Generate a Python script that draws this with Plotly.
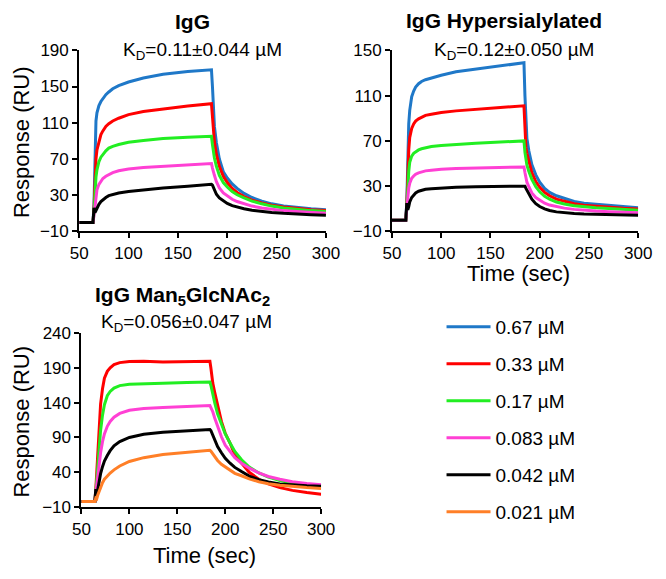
import plotly.graph_objects as go

# ---------------- data ----------------
time_sec = [50, 64, 65, 66, 67, 68, 70, 72, 74, 77, 80, 84, 90, 100, 115, 135, 160, 184,
            185, 186, 187, 189, 192, 196, 200, 205, 210, 217, 225, 235, 245, 257, 270, 285, 300]

conc_labels = ["0.67 µM", "0.33 µM", "0.17 µM", "0.083 µM", "0.042 µM", "0.021 µM"]
conc_colors = ["#1f78c8", "#ff0000", "#22ee22", "#ff40d4", "#000000", "#ff7f27"]

# Panel 1: IgG
igg_067 = [0, 0, 20, 85, 112, 121, 129, 133.5, 137, 141, 144, 147.5, 151, 155, 159.5, 163.5, 166.5, 168.5,
           150, 118, 106, 88, 70, 56, 49, 42.5, 37.5, 32, 27.5, 23.5, 20.5, 18, 16.5, 15, 14]
igg_033 = [0, 0, 15, 50, 70, 80, 90, 97, 101, 106, 109, 112, 115, 119, 122.5, 125.5, 128.5, 131,
           118, 98, 89, 75, 62, 51, 44, 37.5, 33, 28.5, 24.5, 21.5, 19, 17, 15.5, 14, 13]
igg_017 = [0, 0, 10, 32, 50, 58, 67, 72, 75, 79, 82, 84, 86, 88.5, 90.5, 92.5, 94, 95,
           86, 76, 71, 62, 52, 44, 39, 34, 30.5, 27, 23.5, 20.5, 18, 16, 14.5, 13, 12]
igg_0083 = [0, 0, 8, 20, 30, 36, 42, 46, 48.5, 51, 53, 55, 57, 59, 60.5, 62, 63.5, 65,
            60, 55, 52, 45, 38, 32.5, 29, 25.5, 23, 20.5, 18, 16, 14.5, 13, 12, 11, 10]
igg_0042 = [0, 0, 16, 11, 13, 16, 20, 23, 25, 27.5, 29.5, 31, 32.5, 34, 36, 38, 40, 42,
            41, 38, 35, 31, 27, 23.5, 21, 18.5, 17, 15, 13.5, 12, 11, 10, 9, 8.5, 8]

# Panel 2: IgG Hypersialylated
hyp_067 = [0, 0, 15, 60, 85, 97, 109, 114, 117.5, 120.5, 122.5, 124, 125.5, 128, 131, 133.5, 136.5, 139,
           110, 80, 72, 61, 49, 40, 33.5, 28, 24.5, 21.5, 19, 16.5, 15, 14, 13, 12, 11]
hyp_033 = [0, 0, 12, 42, 62, 73, 81, 85, 87.5, 89.5, 91, 92.5, 93.5, 95, 96.5, 98, 99.5, 101,
           82, 64, 59, 51, 42, 34, 29, 24.5, 21.5, 18.5, 16.5, 14.5, 13.2, 12.2, 11.3, 10.5, 9.8]
hyp_017 = [0, 0, 10, 30, 43, 51, 56.5, 59, 60.5, 62, 63, 64, 65, 66, 67, 68, 69, 70,
           60, 52, 48.5, 43, 36, 29.5, 25, 21, 18.5, 16, 14.2, 12.8, 11.8, 11, 10.2, 9.5, 8.8]
hyp_0083 = [0, 0, 10, 22, 28.5, 32.5, 37, 39, 40.5, 41.8, 42.8, 43.5, 44, 45, 45.5, 46, 46.5, 47,
            42, 36, 33.5, 29.5, 24, 20, 17.5, 15, 13.3, 11.8, 10.6, 9.5, 8.7, 8, 7.4, 6.9, 6.5]
hyp_0042 = [0, 0, 15, 9, 12, 16, 20, 22.5, 24, 25.5, 26.5, 27.2, 27.8, 28.5, 29, 29.5, 30, 30.5,
            30, 28, 26.5, 23, 18.5, 14.5, 12, 10, 8.5, 7.3, 6.4, 5.8, 5.4, 5.1, 4.8, 4.5, 4.3]

# Panel 3: IgG Man5GlcNAc2
man_033 = [-2, -2, 15, 40, 70, 100, 138, 160, 175, 185, 190, 194.5, 197.5, 199, 199.5, 198.5, 199, 199.5,
           190, 176, 168, 155, 135, 113, 96, 82, 65, 53, 40, 30, 23.5, 18, 14, 11, 8.5]
man_017 = [-2, -2, 12, 30, 48, 68, 100, 122, 137, 150, 156, 161, 164.5, 166.5, 167.5, 168, 169, 169.5,
           165, 158, 150, 140, 124, 108, 95, 82, 70, 58, 47.5, 39, 33, 28, 24.5, 22, 20.5]
man_0083 = [-2, -2, 10, 22, 35, 48, 68, 84, 95, 106, 113, 119, 124.5, 129, 131.5, 133, 134.5, 136,
            133, 130, 127, 118, 106, 91, 79, 70, 61, 53, 46, 39, 34, 30, 26.5, 24, 22]
man_0042 = [-2, -2, 16, 8, 15, 25, 38, 48, 56, 64, 71, 78, 84, 90, 94.5, 97.5, 99.5, 101.5,
            100, 97, 94, 87, 77, 68, 60, 53, 47, 41, 34.5, 29.5, 26, 23.3, 21.8, 20.8, 20]
man_0021 = [-2, -2, 3, 2, 7, 11, 19, 25, 30, 35, 39, 43.5, 49, 55.5, 61, 65.5, 69, 71.5,
            70.5, 68.5, 66.5, 62, 57, 51.5, 47.5, 43, 38.5, 35, 30.5, 26.5, 23.5, 21.5, 19.5, 18, 16.8]

x_ticks = [50, 100, 150, 200, 250, 300]
y_ticks_1 = [-10, 30, 70, 110, 150, 190]
y_ticks_2 = [-10, 30, 70, 110, 150]
y_ticks_3 = [-10, 40, 90, 140, 190, 240]

panel_titles = ["IgG", "IgG Hypersialylated", "IgG Man<sub>5</sub>GlcNAc<sub>2</sub>"]
kd_texts = ["K<sub>D</sub>=0.11±0.044 µM", "K<sub>D</sub>=0.12±0.050 µM", "K<sub>D</sub>=0.056±0.047 µM"]

# ---------------- figure ----------------
W, H = 666, 579
FONT = "Liberation Sans, Arial, sans-serif"


def fx(p):
    return p / W


def fy(p):
    return 1 - p / H


fig = go.Figure()

panels = [
    ("x", "y", [igg_067, igg_033, igg_017, igg_0083, igg_0042], [0, 1, 2, 3, 4]),
    ("x2", "y2", [hyp_067, hyp_033, hyp_017, hyp_0083, hyp_0042], [0, 1, 2, 3, 4]),
    ("x3", "y3", [man_033, man_017, man_0083, man_0042, man_0021], [1, 2, 3, 4, 5]),
]

for xa, ya, series, idxs in panels:
    for vals, ci in zip(series, idxs):
        show = (ci == 0 and xa == "x") or (ci != 0 and xa == "x3")
        fig.add_trace(go.Scatter(
            x=time_sec, y=vals, mode="lines", xaxis=xa, yaxis=ya,
            line=dict(color=conc_colors[ci], width=3),
            name=conc_labels[ci], legendgroup=conc_labels[ci], legendrank=ci + 1,
            showlegend=show, hoverinfo="skip",
        ))

axis_common = dict(showline=True, linecolor="black", linewidth=2, ticks="outside",
                   ticklen=5, tickwidth=2, tickcolor="black", showgrid=False, zeroline=False,
                   tickfont=dict(family=FONT, size=17, color="black"))

fig.update_layout(
    width=W, height=H, margin=dict(l=0, r=0, t=0, b=0),
    paper_bgcolor="white", plot_bgcolor="white",
    font=dict(family=FONT, color="black"),
    xaxis=dict(domain=[fx(72.7), fx(328.3)], range=[50, 300], tickvals=x_ticks, anchor="y", **axis_common),
    yaxis=dict(domain=[fy(230), fy(42.7)], range=[-10, 190], tickvals=y_ticks_1, anchor="x", **axis_common),
    xaxis2=dict(domain=[fx(396.7), fx(651.7)], range=[50, 300], tickvals=x_ticks, anchor="y2", **axis_common),
    yaxis2=dict(domain=[fy(230), fy(42.7)], range=[-10, 150], tickvals=y_ticks_2, anchor="x2", **axis_common),
    xaxis3=dict(domain=[fx(75), fx(323.3)], range=[50, 300], tickvals=x_ticks, anchor="y3", **axis_common),
    yaxis3=dict(domain=[fy(515), fy(335)], range=[-10, 240], tickvals=y_ticks_3, anchor="x3", **axis_common),
    legend=dict(x=fx(448), y=fy(309), xanchor="left", yanchor="top",
                font=dict(family=FONT, size=19, color="black"),
                tracegroupgap=9.3, itemwidth=44, bgcolor="rgba(0,0,0,0)"),
    showlegend=True,
)

ann = []
title_pos = [(190, 13), (513, 12), (180, 297)]
kd_pos = [(200, 43), (523, 43), (184, 325)]
for t, (x, y) in zip(panel_titles, title_pos):
    ann.append(dict(text="<b>" + t + "</b>", x=fx(x), y=fy(y), xref="paper", yref="paper",
                    showarrow=False, xanchor="center", yanchor="middle",
                    font=dict(family=FONT, size=21, color="black")))
for t, (x, y) in zip(kd_texts, kd_pos):
    ann.append(dict(text=t, x=fx(x), y=fy(y), xref="paper", yref="paper",
                    showarrow=False, xanchor="center", yanchor="middle",
                    font=dict(family=FONT, size=19, color="black")))
# axis titles
for (x, y) in [(13, 138), (13, 427)]:
    ann.append(dict(text="Response (RU)", x=fx(x), y=fy(y), xref="paper", yref="paper",
                    showarrow=False, textangle=-90, xanchor="center", yanchor="middle",
                    font=dict(family=FONT, size=22, color="black")))
for (x, y) in [(528, 273), (202, 565)]:
    ann.append(dict(text="Time (sec)", x=fx(x), y=fy(y), xref="paper", yref="paper",
                    showarrow=False, xanchor="center", yanchor="middle",
                    font=dict(family=FONT, size=22, color="black")))
fig.update_layout(annotations=ann)

fig.write_html("out.html", config={"displayModeBar": False},
               post_script="document.body.style.margin='0';document.body.style.overflow='hidden';")
